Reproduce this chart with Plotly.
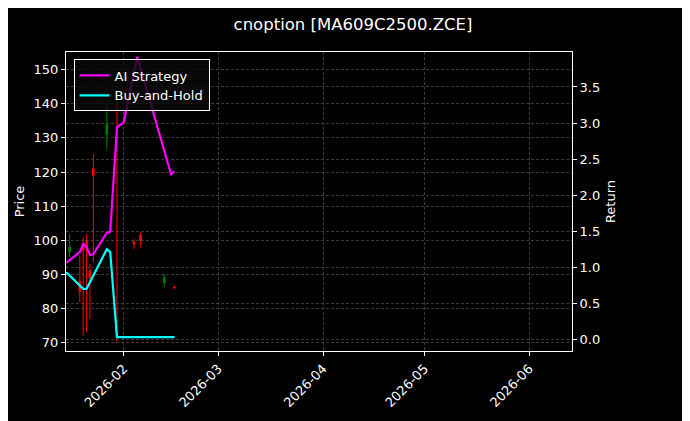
import plotly.graph_objects as go

# Candlestick data
c_dates = ["2026-01-16", "2026-01-19", "2026-01-20", "2026-01-21", "2026-01-22", "2026-01-23",
           "2026-01-27", "2026-01-30", "2026-02-04", "2026-02-06", "2026-02-13", "2026-02-16"]
c_open  = [96.5, 88.0, 99.0, 100.0, 91.0, 121.0, 131.0, 140.0, 99.6, 101.5, 87.5, 86.3]
c_close = [98.0, 85.0, 97.0, 98.0, 89.0, 119.0, 134.0, 139.0, 98.8, 100.0, 89.0, 86.0]
c_high  = [101.8, 95.5, 100.8, 101.8, 93.0, 125.2, 140.4, 142.4, 100.3, 102.3, 90.1, 86.5]
c_low   = [95.0, 81.8, 72.0, 73.0, 76.9, 93.5, 126.7, 70.0, 97.4, 97.9, 86.2, 85.8]

# Strategy returns
ai_dates = ["2026-01-15", "2026-01-19", "2026-01-20", "2026-01-21", "2026-01-22", "2026-01-23",
            "2026-01-27", "2026-01-28", "2026-01-30", "2026-02-01", "2026-02-05", "2026-02-15", "2026-02-16"]
ai_ret = [1.06, 1.21, 1.32, 1.28, 1.17, 1.18, 1.48, 1.49, 2.94, 3.01, 3.92, 2.29, 2.33]

bh_dates = ["2026-01-15", "2026-01-20", "2026-01-21", "2026-01-27", "2026-01-28", "2026-01-30", "2026-02-16"]
bh_ret = [0.93, 0.70, 0.70, 1.25, 1.21, 0.03, 0.03]

font = "DejaVu Sans"
fig = go.Figure()
fig.add_trace(go.Candlestick(
    x=c_dates, open=c_open, high=c_high, low=c_low, close=c_close,
    increasing=dict(line=dict(color="green", width=1), fillcolor="green"),
    decreasing=dict(line=dict(color="red", width=1), fillcolor="red"),
    whiskerwidth=0, showlegend=False, yaxis="y"))
fig.add_trace(go.Scatter(x=ai_dates, y=ai_ret, mode="lines", name="AI Strategy",
                         line=dict(color="#ff00ff", width=2.2), yaxis="y2"))
fig.add_trace(go.Scatter(x=bh_dates, y=bh_ret, mode="lines", name="Buy-and-Hold",
                         line=dict(color="#00ffff", width=2.2), yaxis="y2"))

grid = dict(showgrid=True, gridcolor="#3a3a3a", griddash="3px,2px", gridwidth=0.5)
fig.update_layout(
    width=690, height=421, paper_bgcolor="black", plot_bgcolor="black",
    font=dict(family=font, color="white", size=13),
    margin=dict(l=57.7, r=126, t=43.7, b=78.3, autoexpand=False),
    title=dict(text="cnoption [MA609C2500.ZCE]", x=0.5, xanchor="center", y=0.975, yanchor="top",
               font=dict(size=16.5, color="white")),
    xaxis=dict(type="date", range=["2026-01-14 22:00", "2026-06-13 16:00"], automargin=False,
               tick0="2026-01-01", dtick="M1", tickformat="%Y-%m", tickangle=-45,
               ticks="outside", ticklen=4, tickcolor="white",
               showline=True, linecolor="white", mirror=True, linewidth=1,
               rangeslider=dict(visible=False), zeroline=False, **grid),
    yaxis=dict(range=[67.5, 155.2], tick0=70, dtick=10, automargin=False,
               title=dict(text="Price", standoff=6, font=dict(size=13)),
               ticks="outside", ticklen=4, tickcolor="white",
               showline=True, linecolor="white", mirror=True, linewidth=1, zeroline=False, **grid),
    yaxis2=dict(range=[-0.162, 3.985], tick0=0, dtick=0.5, tickformat=".1f", overlaying="y", side="right",
                automargin=False, title=dict(text="Return", standoff=6, font=dict(size=13)),
                ticks="outside", ticklen=4, tickcolor="white",
                zeroline=False, **grid),
    legend=dict(x=0.015, y=0.975, xanchor="left", yanchor="top", bgcolor="rgba(10,10,10,0.8)",
                bordercolor="white", borderwidth=1, font=dict(size=13, color="white")),
    showlegend=True,
)
fig.write_html("out.html")
